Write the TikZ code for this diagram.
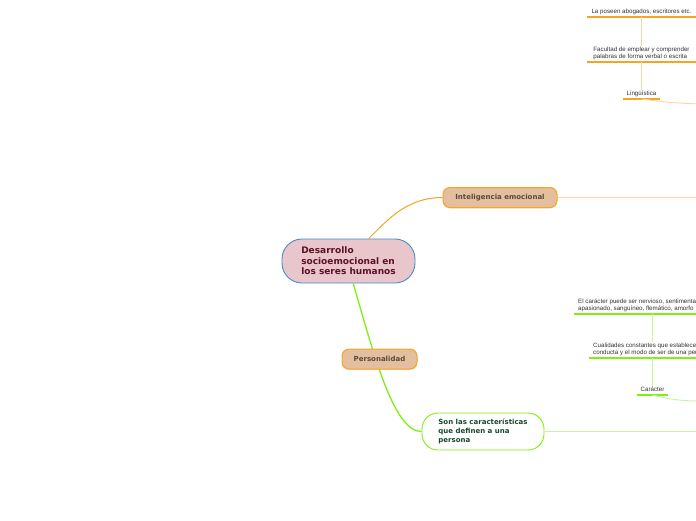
\documentclass[tikz,border=0pt]{standalone}
\usepackage{fontspec}
\setmainfont{DejaVu Sans}
\newfontfamily\labelfont{Liberation Sans}
\usepackage{xcolor}
\usepackage{tikz}
\usetikzlibrary{positioning,shadows}
\definecolor{rootfill}{RGB}{232,198,204}
\definecolor{rootline}{RGB}{70,140,200}
\definecolor{roottext}{RGB}{92,16,40}
\definecolor{tanfill}{RGB}{227,191,158}
\definecolor{myorange}{RGB}{247,164,36}
\definecolor{lightorange}{RGB}{253,214,165}
\definecolor{mybrown}{RGB}{90,74,60}
\definecolor{mygreen}{RGB}{128,240,16}
\definecolor{lightgreen}{RGB}{200,245,160}
\definecolor{greentext}{RGB}{24,72,44}
\definecolor{mygray}{RGB}{51,51,51}

\begin{document}
\begin{tikzpicture}[x=1pt, y=-1pt,
  rootbox/.style={draw=rootline, fill=rootfill, line width=0.9pt, rounded corners=20pt,
                  minimum width=133pt, minimum height=44pt, inner sep=0pt, align=left,
                  text=roottext, font=\fontsize{9}{10.5}\selectfont\bfseries},
  topicbox/.style={draw=myorange, fill=tanfill, line width=1pt, rounded corners=7pt,
                   minimum height=20pt, inner sep=0pt, text=mybrown,
                   font=\fontsize{7}{8}\selectfont\bfseries,
                   drop shadow={shadow xshift=0pt, shadow yshift=-1.2pt, opacity=0.2}},
  subbox/.style={draw=mygreen, fill=white, line width=0.9pt, rounded corners=16pt,
                 minimum width=122pt, minimum height=37pt, inner sep=0pt, align=left,
                 text=greentext, font=\fontsize{7}{9}\selectfont\bfseries},
  leaf/.style={inner xsep=0pt, inner ysep=1.2pt, text depth=1.8pt, align=left,
               text=mygray, font=\labelfont\fontsize{6.2}{7}\selectfont},
  ulorange/.style={draw=myorange, line width=1.8pt},
  ulgreen/.style={draw=mygreen, line width=1.8pt},
  linkorange/.style={draw=lightorange, line width=0.9pt},
  linkgreen/.style={draw=lightgreen, line width=0.9pt}]
  \useasboundingbox (0,0) rectangle (696,520);
  \fill[white] (0,0) rectangle (696,520);
  \clip (0,0) rectangle (696,520);

  \node[rootbox] (root) at (348.5,261) {Desarrollo\\socioemocional en\\los seres humanos};
  \node[topicbox, minimum width=114pt] (intel) at (500,197.5) {Inteligencia emocional};
  \node[subbox] (define) at (483,431.5) {Son las características\\que definen a una\\persona};

  \draw[myorange, line width=1pt] (root.48) .. controls +(20,-20) and +(-35,0) .. (intel.west);
  \draw[mygreen, line width=1.3pt] (root.-78) .. controls +(22,77) and +(-27,0) .. (define.west);

  \node[topicbox, minimum width=75pt] (perso) at (379.5,359) {Personalidad};

  \node[leaf, minimum width=109pt, anchor=south] (poseen) at (641.5,17)
    {La poseen abogados, escritores etc.};
  \node[leaf, minimum width=109pt, anchor=south] (facultad) at (641.5,62)
    {Facultad de emplear y comprender\\palabras de forma verbal o escrita};
  \node[leaf, minimum width=37pt, anchor=south] (linguistica) at (641.5,99) {Lingüística};
  \foreach \n in {poseen,facultad,linguistica}
    \draw[ulorange] (\n.south west) -- (\n.south east);

  \node[leaf, inner xsep=4pt, anchor=south west] (tipos) at (574,314)
    {El carácter puede ser nervioso, sentimental,\\apasionado, sanguíneo, flemático, amorfo};
  \node[leaf, inner xsep=4pt, anchor=south west] (cualidades) at (589,358)
    {Cualidades constantes que establecen la\\conducta y el modo de ser de una persona};
  \node[leaf, minimum width=31pt, anchor=south] (caracter) at (652.5,395) {Carácter};
  \foreach \n in {tipos,cualidades,caracter}
    \draw[ulgreen] (\n.south west) -- (\n.south east);

  \coordinate (intelR) at (760,197.5);
  \coordinate (defineR) at (760,431.5);
  \coordinate (linguisticaR) at (720,104);
  \coordinate (caracterR) at (720,401);

  \draw[linkorange] (intel) -- (intelR);
  \draw[linkorange] (poseen) -- (facultad);
  \draw[linkorange] (facultad) -- (linguistica);
  \draw[linkorange] (linguistica.south) to[out=-8, in=180] (linguisticaR);

  \draw[linkgreen] (define) -- (defineR);
  \draw[linkgreen] (tipos.south -| caracter) -- (cualidades.north -| caracter);
  \draw[linkgreen] (cualidades.south -| caracter) -- (caracter);
  \draw[linkgreen] (caracter.south) to[out=-15, in=180] (caracterR);
\end{tikzpicture}
\end{document}
